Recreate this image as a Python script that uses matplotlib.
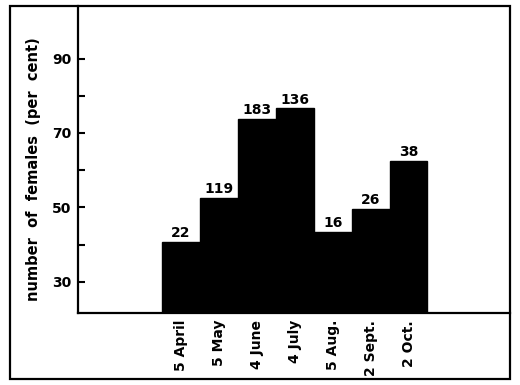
import matplotlib
matplotlib.use("Agg")
import matplotlib.pyplot as plt
from matplotlib.patches import Rectangle
from matplotlib.ticker import FixedLocator

months = ['5 April', '5 May', '4 June', '4 July', '5 Aug.', '2 Sept.', '2 Oct.']
percent_females = [40.6, 52.6, 73.7, 76.6, 43.5, 49.6, 62.4]
sample_sizes = [22, 119, 183, 136, 16, 26, 38]
major_ticks = [30, 50, 70, 90]
minor_ticks = [40, 60, 80]

plt.rcParams['font.family'] = 'DejaVu Sans'
plt.rcParams['font.weight'] = 'bold'

fig = plt.figure(figsize=(5.2, 3.85), dpi=100)
ax = fig.add_axes([0.15, 0.187, 0.831, 0.797])

x = list(range(len(months)))
bars = ax.bar(x, percent_females, width=1.0, color='black', edgecolor='black')
for b, n in zip(bars, sample_sizes):
    ax.text(b.get_x() + b.get_width() / 2, b.get_height() + 0.5, str(n),
            ha='center', va='bottom', fontsize=10, fontweight='bold')

ax.set_xlim(-2.72, 8.68)
ax.set_ylim(21.6, 104.1)
ax.set_xticks(x)
ax.set_xticklabels(months, rotation=90, fontsize=10, fontweight='bold')
ax.tick_params(axis='x', length=0, pad=5)

ax.yaxis.set_major_locator(FixedLocator(major_ticks))
ax.yaxis.set_minor_locator(FixedLocator(minor_ticks))
ax.tick_params(axis='y', which='both', direction='in', length=5, width=1.5, pad=5, labelsize=10)
for t in ax.get_yticklabels():
    t.set_fontweight('bold')

ax.set_ylabel('number  of  females  (per  cent)', fontsize=10.5, fontweight='bold')
ax.yaxis.set_label_coords(-0.085, 0.47)

for s in ['top', 'right']:
    ax.spines[s].set_visible(False)
for s in ['left', 'bottom']:
    ax.spines[s].set_linewidth(1.6)

# outer frame round the whole figure
fig.patches.append(Rectangle((10 / 520, 6 / 385), 500 / 520, 373 / 385,
                             transform=fig.transFigure, fill=False,
                             edgecolor='black', linewidth=1.6))

fig.savefig('out.png', dpi=100)
